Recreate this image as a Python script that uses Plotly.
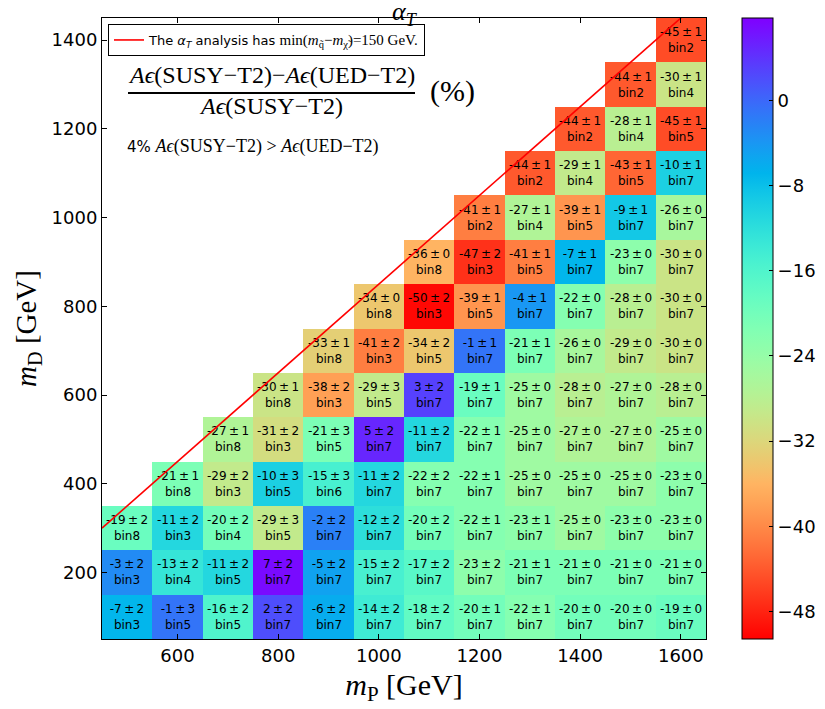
import math
import plotly.graph_objects as go

# ---------------- data ----------------
m_P = [500, 600, 700, 800, 900, 1000, 1100, 1200, 1300, 1400, 1500, 1600]
m_D = [100, 200, 300, 400, 500, 600, 700, 800, 900, 1000, 1100, 1200, 1300, 1400]
N = None

# relative difference (%) per row (m_D), columns follow m_P
diff_100 = [-7, -1, -16, 2, -6, -14, -18, -20, -22, -20, -20, -19]
diff_200 = [-3, -13, -11, 7, -5, -15, -17, -23, -21, -21, -21, -21]
diff_300 = [-19, -11, -20, -29, -2, -12, -20, -22, -23, -25, -23, -23]
diff_400 = [N, -21, -29, -10, -15, -11, -22, -22, -25, -25, -25, -23]
diff_500 = [N, N, -27, -31, -21, 5, -11, -22, -25, -27, -27, -25]
diff_600 = [N, N, N, -30, -38, -29, 3, -19, -25, -28, -27, -28]
diff_700 = [N, N, N, N, -33, -41, -34, -1, -21, -26, -29, -30]
diff_800 = [N, N, N, N, N, -34, -50, -39, -4, -22, -28, -30]
diff_900 = [N, N, N, N, N, N, -36, -47, -41, -7, -23, -30]
diff_1000 = [N, N, N, N, N, N, N, -41, -27, -39, -9, -26]
diff_1100 = [N, N, N, N, N, N, N, N, -44, -29, -43, -10]
diff_1200 = [N, N, N, N, N, N, N, N, N, -44, -28, -45]
diff_1300 = [N, N, N, N, N, N, N, N, N, N, -44, -30]
diff_1400 = [N, N, N, N, N, N, N, N, N, N, N, -45]

err_100 = [2, 3, 2, 2, 2, 2, 2, 1, 1, 0, 0, 0]
err_200 = [2, 2, 2, 2, 2, 2, 2, 2, 1, 0, 0, 0]
err_300 = [2, 2, 2, 3, 2, 2, 2, 1, 1, 0, 0, 0]
err_400 = [N, 1, 2, 3, 3, 2, 2, 1, 0, 0, 0, 0]
err_500 = [N, N, 1, 2, 3, 2, 2, 1, 0, 0, 0, 0]
err_600 = [N, N, N, 1, 2, 3, 2, 1, 0, 0, 0, 0]
err_700 = [N, N, N, N, 1, 2, 2, 1, 1, 0, 0, 0]
err_800 = [N, N, N, N, N, 0, 2, 1, 1, 0, 0, 0]
err_900 = [N, N, N, N, N, N, 0, 2, 1, 1, 0, 0]
err_1000 = [N, N, N, N, N, N, N, 1, 1, 1, 1, 0]
err_1100 = [N, N, N, N, N, N, N, N, 1, 1, 1, 1]
err_1200 = [N, N, N, N, N, N, N, N, N, 1, 1, 1]
err_1300 = [N, N, N, N, N, N, N, N, N, N, 1, 1]
err_1400 = [N, N, N, N, N, N, N, N, N, N, N, 1]

bin_100 = [3, 5, 5, 7, 7, 7, 7, 7, 7, 7, 7, 7]
bin_200 = [3, 4, 5, 7, 7, 7, 7, 7, 7, 7, 7, 7]
bin_300 = [8, 3, 4, 5, 7, 7, 7, 7, 7, 7, 7, 7]
bin_400 = [N, 8, 3, 5, 6, 7, 7, 7, 7, 7, 7, 7]
bin_500 = [N, N, 8, 3, 5, 7, 7, 7, 7, 7, 7, 7]
bin_600 = [N, N, N, 8, 3, 5, 7, 7, 7, 7, 7, 7]
bin_700 = [N, N, N, N, 8, 3, 5, 7, 7, 7, 7, 7]
bin_800 = [N, N, N, N, N, 8, 3, 5, 7, 7, 7, 7]
bin_900 = [N, N, N, N, N, N, 8, 3, 5, 7, 7, 7]
bin_1000 = [N, N, N, N, N, N, N, 2, 4, 5, 7, 7]
bin_1100 = [N, N, N, N, N, N, N, N, 2, 4, 5, 7]
bin_1200 = [N, N, N, N, N, N, N, N, N, 2, 4, 5]
bin_1300 = [N, N, N, N, N, N, N, N, N, N, 2, 4]
bin_1400 = [N, N, N, N, N, N, N, N, N, N, N, 2]

z_min, z_max = -50.6, 7.76
colorbar_ticks = [0, -8, -16, -24, -32, -40, -48]
mass_gap = 150  # min(m_sq - m_chi) in GeV
cell = 100

diffs = [diff_100, diff_200, diff_300, diff_400, diff_500, diff_600, diff_700,
         diff_800, diff_900, diff_1000, diff_1100, diff_1200, diff_1300, diff_1400]
errs = [err_100, err_200, err_300, err_400, err_500, err_600, err_700,
        err_800, err_900, err_1000, err_1100, err_1200, err_1300, err_1400]
bins = [bin_100, bin_200, bin_300, bin_400, bin_500, bin_600, bin_700,
        bin_800, bin_900, bin_1000, bin_1100, bin_1200, bin_1300, bin_1400]

text = []
for drow, erow, brow in zip(diffs, errs, bins):
    trow = []
    for d, e, b in zip(drow, erow, brow):
        if d is None:
            trow.append("")
        else:
            trow.append(f"{d}\u2009±\u2009{e}<br>bin{b}")
    text.append(trow)

# matplotlib "rainbow_r" colormap
colorscale = []
n = 41
for i in range(n):
    t = i / (n - 1)
    x = 1 - t
    r = min(1.0, abs(2 * x - 0.5))
    g = max(0.0, math.sin(math.pi * x))
    b = max(0.0, math.cos(math.pi * x / 2))
    colorscale.append([t, f"rgb({round(r*255)},{round(g*255)},{round(b*255)})"])

x_range = [m_P[0] - cell / 2, m_P[-1] + cell / 2]
y_range = [m_D[0] - cell / 2, m_D[-1] + cell / 2]

SERIF = "Liberation Serif"
SANS = "DejaVu Sans"

# page has an 8px body margin: size the figure so the plot lands where it should
OFF = 8
W, H = 825 - OFF, 709 - OFF
L, T = 102 - OFF, 18 - OFF
pw, ph = 604, 621
R, B = W - L - pw, H - T - ph


def px(xs):  # screen x -> paper x
    return (xs - OFF - L) / pw


def py(ys):  # screen y -> paper y
    return (T + ph - (ys - OFF)) / ph


fig = go.Figure()
fig.add_trace(go.Heatmap(
    x=m_P, y=m_D, z=diffs, text=text, texttemplate="%{text}",
    textfont=dict(family=SANS, size=12, color="black"),
    colorscale=colorscale, zmin=z_min, zmax=z_max, showscale=True,
    hoverongaps=False,
    colorbar=dict(
        x=px(742.3), xanchor="left", xpad=0, ypad=0,
        y=0.5, yanchor="middle", len=1, lenmode="fraction",
        thickness=31, thicknessmode="pixels",
        outlinewidth=1, outlinecolor="black",
        tickvals=colorbar_ticks, ticks="inside", ticklen=4, tickcolor="black",
        tickfont=dict(family=SANS, size=18, color="black"),
    ),
    showlegend=False,
))

line_x = [x_range[0], x_range[1]]
line_y = [v - mass_gap for v in line_x]
fig.add_trace(go.Scatter(
    x=line_x, y=line_y, mode="lines",
    line=dict(color="red", width=1.6),
    name=("The <i>α</i><sub><i>T</i></sub> analysis has "
          f"<span style='font-family:{SERIF};font-size:15px'>min(<i>m</i><sub>q̃</sub>−<i>m</i><sub>χ̃</sub>)={mass_gap} GeV.</span>"),
    showlegend=True,
))

fig.update_layout(
    width=W, height=H,
    margin=dict(l=L, r=R, t=T, b=B, pad=0, autoexpand=False),
    paper_bgcolor="white", plot_bgcolor="white",
    font=dict(family=SANS, size=18, color="black"),
    title=dict(text="<i>α</i><sub><i>T</i></sub>", x=0.5, xref="paper", xanchor="center",
               y=1 - (11 - OFF) / H, yref="container", yanchor="middle",
               font=dict(family=SERIF, size=26, color="black")),
    showlegend=True,
    legend=dict(x=px(108), y=py(24), xanchor="left", yanchor="top",
                bgcolor="white", bordercolor="black", borderwidth=1,
                font=dict(family=SANS, size=13, color="black"),
                itemwidth=30, tracegroupgap=0),
    xaxis=dict(range=x_range, dtick=200, tick0=0, showgrid=False, zeroline=False,
               ticks="inside", ticklen=5, tickcolor="black", showline=True,
               linecolor="black", linewidth=1, mirror="allticks", automargin=False,
               tickfont=dict(family=SANS, size=18, color="black"),
               title=dict(text="<i>m</i><sub>P</sub> [GeV]", standoff=9,
                          font=dict(family=SERIF, size=30, color="black"))),
    yaxis=dict(range=y_range, dtick=200, tick0=0, showgrid=False, zeroline=False,
               ticks="inside", ticklen=5, tickcolor="black", showline=True,
               linecolor="black", linewidth=1, mirror="allticks", automargin=False,
               tickfont=dict(family=SANS, size=18, color="black"),
               title=dict(text="<i>m</i><sub>D</sub> [GeV]", standoff=6,
                          font=dict(family=SERIF, size=29, color="black"))),
)

annots = [
    dict(text="<i>A</i><i>ϵ</i>(SUSY−T2)−<i>A</i><i>ϵ</i>(UED−T2)", x=px(271), y=py(75),
         font=dict(family=SERIF, size=24)),
    dict(text="<i>A</i><i>ϵ</i>(SUSY−T2)", x=px(271), y=py(106),
         font=dict(family=SERIF, size=24)),
    dict(text="(%)", x=px(452), y=py(91), font=dict(family=SERIF, size=30)),
]
for a in annots:
    fig.add_annotation(xref="paper", yref="paper", showarrow=False,
                       xanchor="center", yanchor="middle", **a)
fig.add_annotation(xref="paper", yref="paper", showarrow=False, xanchor="left", yanchor="middle",
                   x=px(125), y=py(146),
                   text=(f"4% <span style='font-family:{SERIF};font-size:18px'><i>A</i><i>ϵ</i>(SUSY−T2) &gt; "
                         "<i>A</i><i>ϵ</i>(UED−T2)</span>"),
                   font=dict(family=SANS, size=15, color="black"))
fig.add_shape(type="line", xref="paper", yref="paper", x0=px(128), x1=px(415),
              y0=py(93), y1=py(93), line=dict(color="black", width=2))

fig.write_html("out.html")
